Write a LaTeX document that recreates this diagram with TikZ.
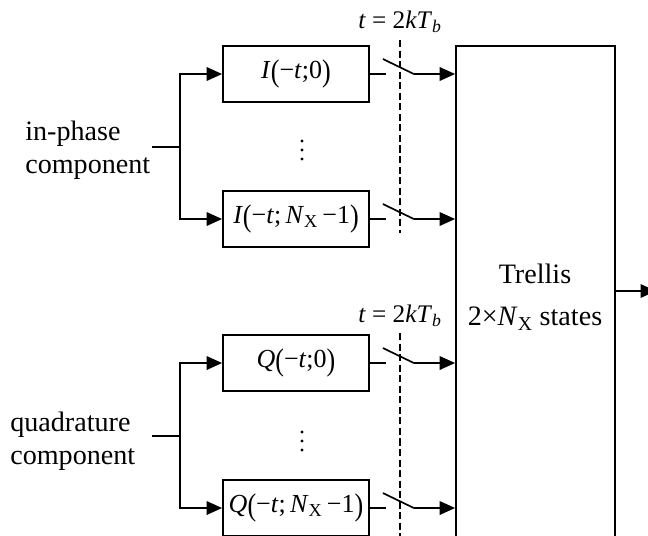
\documentclass[tikz,border=0pt]{standalone}
\usepackage{fontspec}
\setmainfont{Liberation Serif}
\usetikzlibrary{arrows.meta,positioning,calc}

\newcommand{\Nx}{\textit{N}\textsubscript{X}}
\newcommand{\lpar}{\raisebox{-0.1em}{\scalebox{1}[1.2]{(}}}
\newcommand{\rpar}{\raisebox{-0.1em}{\scalebox{1}[1.2]{)}}}
\newcommand{\sampletime}{\textit{t} = 2\textit{kT}\textsubscript{\textit{b}}}

\begin{document}
\begin{tikzpicture}[
    x=0.025cm, y=-0.025cm,
    every node/.style={font=\fontsize{20}{23.5}\selectfont},
    branchlabel/.style={align=left, anchor=west, inner sep=0pt},
    filter/.style={draw, line width=1.2pt, minimum width=3.65cm, minimum height=1.4cm, inner sep=0pt, font=\fontsize{18.5}{22}\selectfont},
    trellisbox/.style={draw, line width=1.2pt, minimum width=3.975cm, minimum height=12.85cm},
    timing/.style={font=\fontsize{18}{20}\selectfont},
    flow/.style={-{Triangle[length=11pt,width=9.5pt]}, line width=1.6pt},
    wire/.style={line width=1.2pt},
    sampler/.style={line width=2pt, dash pattern=on 5pt off 2.5pt}
]
\useasboundingbox (0,0) rectangle (648,535);
\node[branchlabel] (inphase) at (25,150) {in-phase\\component};
\node[branchlabel] (quadrature) at (10,441) {quadrature\\component};
\node[filter] (I0) at (296,74) {\textit{I}\lpar−\textit{t};0\rpar};
\node[filter] (I1) at (296,219) {\textit{I}\lpar−\textit{t};\,\Nx\,−1\rpar};
\node[filter] (Q0) at (296,363) {\textit{Q}\lpar−\textit{t};0\rpar};
\node[filter] (Q1) at (296,508) {\textit{Q}\lpar−\textit{t};\,\Nx\,−1\rpar};
\node[trellisbox] (trellis) at (535.5,303) {};
\node[align=center, font=\fontsize{20}{30}\selectfont] (trellislabel) at (535,297) {Trellis\\2×\Nx{} states};
\node[timing] (tI) at (400,22) {\sampletime};
\node[timing] (tQ) at (400,316) {\sampletime};
\coordinate (dotsI) at (302,150);
\coordinate (dotsQ) at (302,441);
\coordinate (inI) at (152,147);
\coordinate (splitI) at (180,147);
\coordinate (inQ) at (152,436);
\coordinate (splitQ) at (180,436);
\coordinate (sampItop) at (400,40);
\coordinate (sampIbot) at (400,233);
\coordinate (sampQtop) at (400,333);
\coordinate (sampQbot) at (400,540);
\coordinate (out) at (656,291);
\foreach \d in {-9,0,9}{
  \fill (dotsI) ++(0,\d) circle (1.6);
  \fill (dotsQ) ++(0,\d) circle (1.6);
}
\draw[wire] (inI) -- (splitI);
\draw[wire] (inQ) -- (splitQ);
\draw[flow] (splitI) |- (I0.west);
\draw[flow] (splitI) |- (I1.west);
\draw[flow] (splitQ) |- (Q0.west);
\draw[flow] (splitQ) |- (Q1.west);
\foreach \b in {I0,I1,Q0,Q1}{
  \draw[wire] (\b.east) -- ++(16,0);
  \draw[wire] ($(\b.east)+(13,-15)$) -- ($(\b.east)+(44,0)$);
  \draw[flow] ($(\b.east)+(44,0)$) -- (trellis.west |- \b.east);
}
\draw[sampler] (sampItop) -- (sampIbot);
\draw[sampler] (sampQtop) -- (sampQbot);
\draw[flow] (trellis.east |- out) -- (out);
\end{tikzpicture}
\end{document}
